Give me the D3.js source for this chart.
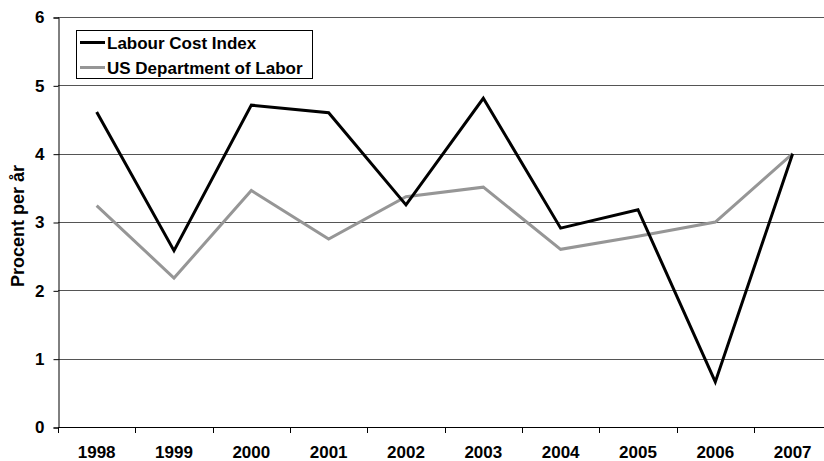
<!DOCTYPE html>
<html>
<head>
<meta charset="utf-8">
<script src="https://cdn.jsdelivr.net/npm/d3@7"></script>
<style>
  body { margin: 0; background: #fff; }
  svg { display: block; }
  text { font-family: "Liberation Sans", Arial, sans-serif; font-weight: bold; }
</style>
</head>
<body>
<div id="chart"></div>
<script>
var years = ["1998", "1999", "2000", "2001", "2002", "2003", "2004", "2005", "2006", "2007"];
var labourCostIndex = [4.61, 2.58, 4.71, 4.60, 3.25, 4.81, 2.91, 3.18, 0.66, 4.0];
var usDepartment = [3.24, 2.18, 3.46, 2.75, 3.37, 3.51, 2.60, 2.79, 3.00, 4.0];
var yTicks = [0, 1, 2, 3, 4, 5, 6];
var seriesNames = ["Labour Cost Index", "US Department of Labor"];

function LineChart() {
  var w = 824, h = 461;
  var left = 58, right = 831.3, top = 17, bottom = 427;

  var svg = d3.select("#chart")
    .append("svg")
    .attr("width", w)
    .attr("height", h);

  var xScale = d3.scaleBand()
    .domain(years)
    .range([left, right]);

  var yScale = d3.scaleLinear()
    .domain([0, 6])
    .range([bottom, top]);

  // gridlines
  svg.append("g")
    .selectAll("line")
    .data(yTicks.slice(1))
    .enter()
    .append("line")
    .attr("x1", left)
    .attr("x2", right)
    .attr("y1", (d) => Math.round(yScale(d)) + 0.5)
    .attr("y2", (d) => Math.round(yScale(d)) + 0.5)
    .attr("stroke", "#555")
    .attr("stroke-width", 1);

  // y axis
  var yAxis = d3.axisLeft(yScale)
    .tickValues(yTicks)
    .tickSize(5)
    .tickPadding(9)
    .tickFormat(d3.format("d"));

  var gy = svg.append("g")
    .attr("transform", "translate(" + (left + 0.5) + ",0.5)")
    .call(yAxis);
  gy.selectAll("text").attr("font-size", 17).attr("fill", "#000")
    .style("font-family", "'Liberation Sans', Arial, sans-serif");
  gy.select(".domain").attr("stroke", "#000");

  // x axis: ticks on category boundaries
  var xAxis = d3.axisBottom(xScale).tickSize(0).tickPadding(18);
  var gx = svg.append("g")
    .attr("transform", "translate(0," + (bottom + 0.5) + ")")
    .call(xAxis);
  gx.select(".domain").remove();
  gx.selectAll("text").attr("font-size", 17).attr("fill", "#000")
    .style("font-family", "'Liberation Sans', Arial, sans-serif");

  svg.append("line")
    .attr("x1", left).attr("x2", right)
    .attr("y1", bottom + 0.5).attr("y2", bottom + 0.5)
    .attr("stroke", "#000");

  svg.append("g")
    .selectAll("line")
    .data(years)
    .enter()
    .append("line")
    .attr("x1", (d) => Math.round(xScale(d)) + 0.5)
    .attr("x2", (d) => Math.round(xScale(d)) + 0.5)
    .attr("y1", bottom)
    .attr("y2", bottom + 6)
    .attr("stroke", "#000");

  // lines
  var line = d3.line()
    .x((d, i) => xScale(years[i]) + xScale.bandwidth() / 2)
    .y((d) => yScale(d));

  svg.append("path")
    .datum(usDepartment)
    .attr("d", line)
    .attr("fill", "none")
    .attr("stroke", "#969696")
    .attr("stroke-width", 3);

  svg.append("path")
    .datum(labourCostIndex)
    .attr("d", line)
    .attr("fill", "none")
    .attr("stroke", "#000")
    .attr("stroke-width", 3);

  // y label
  svg.append("text")
    .attr("text-anchor", "middle")
    .attr("font-size", 18)
    .attr("transform", "translate(24,226) rotate(-90)")
    .text("Procent per år");

  // legend
  var legend = svg.append("g");
  legend.append("rect")
    .attr("x", 76.5).attr("y", 30.5)
    .attr("width", 236).attr("height", 48)
    .attr("fill", "#fff")
    .attr("stroke", "#000");

  var colors = ["#000", "#969696"];
  seriesNames.forEach(function (name, i) {
    var cy = 42.5 + i * 25;
    legend.append("line")
      .attr("x1", 80).attr("x2", 105)
      .attr("y1", cy).attr("y2", cy)
      .attr("stroke", colors[i])
      .attr("stroke-width", 3);
    legend.append("text")
      .attr("x", 107)
      .attr("y", cy + 6.5)
      .attr("font-size", 17)
      .text(name);
  });
}

window.onload = function () {
  LineChart();
};
</script>
</body>
</html>
